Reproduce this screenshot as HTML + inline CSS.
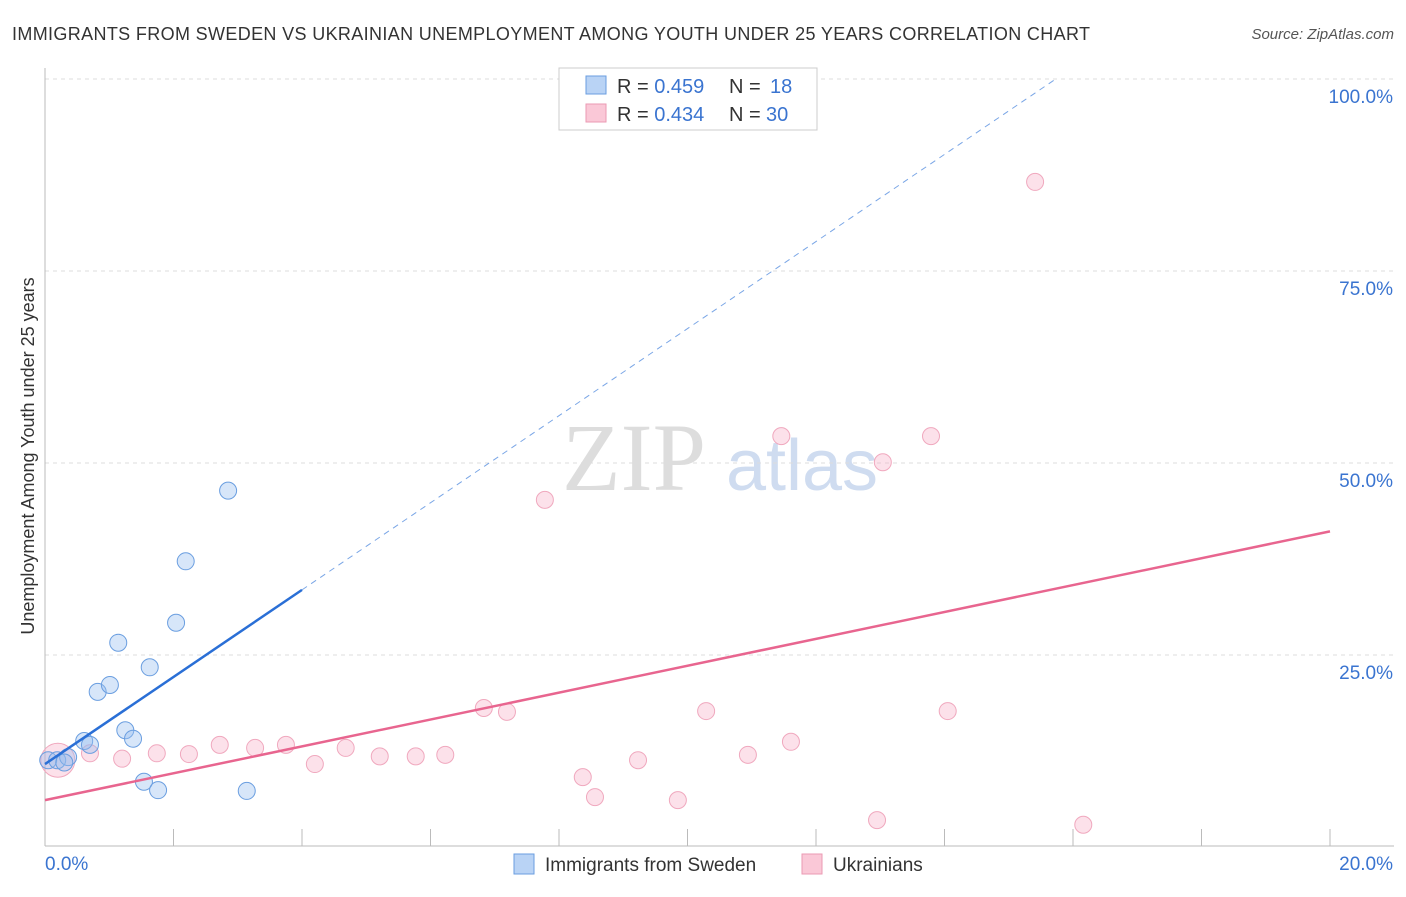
<!DOCTYPE html>
<html><head><meta charset="utf-8"><style>
body{margin:0;background:#fff;font-family:"Liberation Sans",sans-serif}
</style></head><body>
<svg id="c" width="1406" height="892" xmlns="http://www.w3.org/2000/svg">
<text x="12" y="40" font-size="18" textLength="1078" fill="#333">IMMIGRANTS FROM SWEDEN VS UKRAINIAN UNEMPLOYMENT AMONG YOUTH UNDER 25 YEARS CORRELATION CHART</text>
<text x="1394" y="39" font-size="15" fill="#555" font-style="italic" text-anchor="end">Source: ZipAtlas.com</text>
<text x="634" y="490" font-size="96" fill="#ddd" font-family="Liberation Serif,serif" text-anchor="middle">ZIP</text>
<text x="802" y="490" font-size="72" fill="#cfdcf0" text-anchor="middle">atlas</text>
<text transform="translate(34,456) rotate(-90)" font-size="18" fill="#333" text-anchor="middle">Unemployment Among Youth under 25 years</text>
<g id="grid"></g><g id="marks"></g>
<g>
<rect x="559" y="68" width="258" height="62" fill="#fff" stroke="#ccc"/>
<rect x="586" y="76" width="20" height="18" fill="#b9d3f5" stroke="#6a9ee0"/>
<rect x="586" y="104" width="20" height="18" fill="#fac8d7" stroke="#eb9ab3"/>
<text x="617" y="93" font-size="20" fill="#333">R = <tspan fill="#3a74d0">0.459</tspan><tspan x="729">N = </tspan><tspan x="770" fill="#3a74d0">18</tspan></text>
<text x="617" y="121" font-size="20" fill="#333">R = <tspan fill="#3a74d0">0.434</tspan><tspan x="729">N = </tspan><tspan x="766" fill="#3a74d0">30</tspan></text>
</g>
<g>
<rect x="514" y="854" width="20" height="20" fill="#b9d3f5" stroke="#6a9ee0"/>
<text x="545" y="871" font-size="19" fill="#333">Immigrants from Sweden</text>
<rect x="802" y="854" width="20" height="20" fill="#fac8d7" stroke="#eb9ab3"/>
<text x="833" y="871" font-size="19" fill="#333">Ukrainians</text>
</g>
</svg>
<script>
const blueX=[0.05,0.19,0.36,0.61,0.70,0.82,1.01,1.14,1.25,1.37,1.63,1.54,1.76,2.04,2.19,2.85,3.14,0.3];
const blueY=[11.3,11.3,11.7,13.8,13.3,20.2,21.1,26.6,15.2,14.1,23.4,8.5,7.4,29.2,37.2,46.4,7.3,11.0];
const pinkX=[0.2,0.7,1.2,1.74,2.24,2.72,3.27,3.75,4.2,4.68,5.21,5.77,6.23,6.83,7.19,7.78,8.37,8.56,9.23,9.85,10.29,10.94,11.46,11.61,12.95,13.04,13.79,14.05,15.41,16.16];
const pinkY=[11.3,12.2,11.5,12.2,12.1,13.3,12.9,13.3,10.8,12.9,11.8,11.8,12.0,18.1,17.6,45.2,9.1,6.5,11.3,6.1,17.7,12.0,53.5,13.7,3.5,50.1,53.5,17.7,86.6,2.9];
const yTicks=[25,50,75,100];
const blueTrend=[10.8,5.67];
const pinkTrend=[6.1,1.75];
const NS="http://www.w3.org/2000/svg";
const X=v=>45+v*64.25, Y=v=>847-v*7.68;
function mk(tag,a,p){const e=document.createElementNS(NS,tag);for(const k in a)e.setAttribute(k,a[k]);p.appendChild(e);return e;}
const g=document.getElementById('grid'),m=document.getElementById('marks');
yTicks.forEach(t=>{
 const l=mk('line',{x1:45,x2:1394,y1:Y(t),y2:Y(t),stroke:'#ddd','stroke-dasharray':'4,4'},g);
 
 
 const tx=mk('text',{x:1393,y:Y(t)+24,'font-size':19,fill:'#3a74d0','text-anchor':'end'},g);tx.textContent=t.toFixed(1)+'%';
 
 
});
mk('line',{x1:45,x2:45,y1:68,y2:846,stroke:'#bbb'},g);
mk('line',{x1:45,x2:1394,y1:846,y2:846,stroke:'#bbb'},g);
for(let i=1;i<=10;i++){mk('line',{x1:X(i*2),x2:X(i*2),y1:829,y2:846,stroke:'#bbb'},g);}
[[0,'0.0%','start',45],[20,'20.0%','end',1393]].forEach(d=>{const t=mk('text',{x:d[3],y:870,'font-size':19,fill:'#3a74d0','text-anchor':d[2]},g);t.textContent=d[1];

});
pinkX.forEach((x,i)=>{const c=mk('circle',{cx:X(x),cy:Y(pinkY[i]),r:i==0?17:8.5,fill:'rgba(246,170,195,0.35)',stroke:'#f0a8be','stroke-width':1},m);

});
blueX.forEach((x,i)=>{const c=mk('circle',{cx:X(x),cy:Y(blueY[i]),r:8.5,fill:'rgba(150,190,240,0.38)',stroke:'#6a9ee0','stroke-width':1},m);

});
const bl=mk('line',{x1:X(0),y1:Y(blueTrend[0]),x2:X(4),y2:Y(blueTrend[0]+4*blueTrend[1]),stroke:'#2a6fd6','stroke-width':2.5},m);


const xe=(100-blueTrend[0])/blueTrend[1];
const bd=mk('line',{x1:X(4),y1:Y(blueTrend[0]+4*blueTrend[1]),x2:X(xe),y2:Y(100),stroke:'#7aa6e6','stroke-width':1,'stroke-dasharray':'6,5'},m);


const pl=mk('line',{x1:X(0),y1:Y(pinkTrend[0]),x2:X(20),y2:Y(pinkTrend[0]+20*pinkTrend[1]),stroke:'#e8658f','stroke-width':2.5},m);


</script>
</body></html>
